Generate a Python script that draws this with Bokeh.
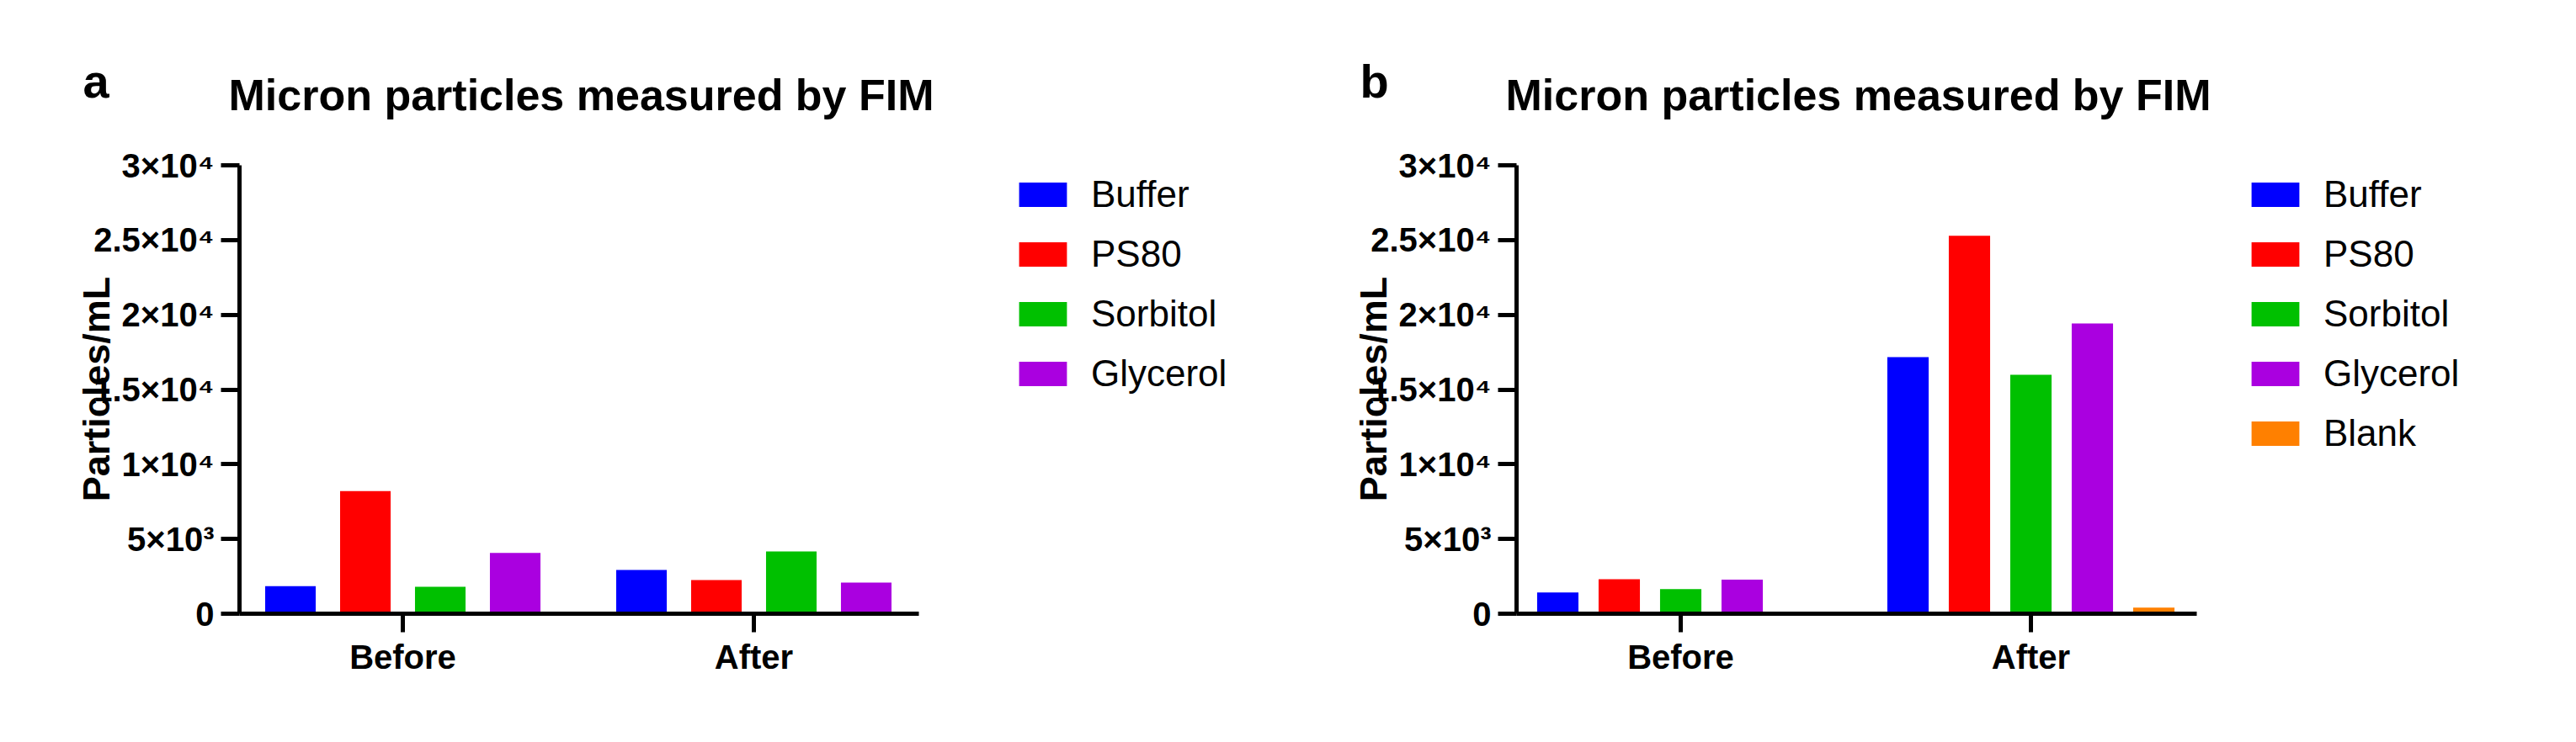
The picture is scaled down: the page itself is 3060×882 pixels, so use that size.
import math
from bokeh.plotting import figure
from bokeh.layouts import row
from bokeh.models import (Range1d, FixedTicker, Legend, LegendItem, Label,
                          ColumnDataSource)
from bokeh.transform import dodge
from bokeh.embed import file_html
from bokeh.resources import INLINE

# ---------------- data ----------------
groups = ["Before", "After"]

series_a = ["Buffer", "PS80", "Sorbitol", "Glycerol"]
buffer_a = [1850, 2930]
ps80_a = [8200, 2250]
sorbitol_a = [1800, 4170]
glycerol_a = [4060, 2080]

series_b = ["Buffer", "PS80", "Sorbitol", "Glycerol", "Blank"]
buffer_b = [1420, 17170]
ps80_b = [2310, 25280]
sorbitol_b = [1650, 15980]
glycerol_b = [2280, 19420]
blank_b = [float("nan"), 410]

y_ticks = [0, 5000, 10000, 15000, 20000, 25000, 30000]
y_tick_labels = ["0", "5×10³", "1×10⁴", "1.5×10⁴", "2×10⁴", "2.5×10⁴", "3×10⁴"]
Y_MAX = 30000

title_text = "Micron particles measured by FIM"
y_label = "Particles/mL"

colors = {
    "Buffer": "#0000FF",
    "PS80": "#FF0000",
    "Sorbitol": "#00C000",
    "Glycerol": "#AA00E0",
    "Blank": "#FF8000",
}

FONT = "Liberation Sans"

# ---------------- layout (page pixels) ----------------
FIG_W, FIG_H = 1522, 866
PAGE_TOP = 8
Y0_PX, YMAX_PX = 737, 204      # page y of value 0 and of Y_MAX
LEGEND_TOP_PX = 203.5
ITEM_H = 71
TITLE_BASE_PX = 120
LETTER_BASE_PX = 104
YLABEL_CENTER_PX = 470


def make_panel(letter, series, values, fig_left, axis_px, cat1_px, unit_px,
               axis_end_px, legend_px, step, bar_w):
    def X(px):
        return 1 + (px - cat1_px) / unit_px

    def Y(py):
        return (Y0_PX - py) * Y_MAX / (Y0_PX - YMAX_PX)

    p = figure(
        x_range=Range1d(X(fig_left), X(fig_left + FIG_W)),
        y_range=Range1d(Y(PAGE_TOP + FIG_H), Y(PAGE_TOP)),
        width=FIG_W, height=FIG_H, min_border=0, title=None,
        output_backend="svg", toolbar_location=None,
        background_fill_color="white", border_fill_color="white",
    )
    p.outline_line_color = None
    p.xgrid.visible = False
    p.ygrid.visible = False

    positions = [i + 1 for i in range(len(groups))]
    n = len(series)
    items = []
    for i, name in enumerate(series):
        off = (i - (n - 1) / 2) * step
        src = ColumnDataSource(dict(x=positions, group=groups, top=values[name]))
        r = p.vbar(x=dodge("x", off), top="top", width=bar_w,
                   source=src, fill_color=colors[name], line_color=None)
        items.append(LegendItem(label=name, renderers=[r]))

    xa = p.xaxis[0]
    ya = p.yaxis[0]
    for ax in (xa, ya):
        ax.axis_line_width = 5
        ax.axis_line_color = "black"
        ax.major_tick_line_width = 5
        ax.major_tick_line_color = "black"
        ax.major_tick_out = 22
        ax.major_tick_in = 0
        ax.minor_tick_out = 0
        ax.minor_tick_in = 0
        ax.major_label_text_font = FONT
        ax.major_label_text_font_style = "bold"
        ax.major_label_text_color = "black"

    xa.fixed_location = 0
    xa.bounds = (X(axis_px), X(axis_end_px))
    xa.ticker = FixedTicker(ticks=positions)
    xa.major_label_overrides = dict(zip(positions, groups))
    xa.major_label_text_font_size = "40px"
    xa.major_label_standoff = 7

    ya.fixed_location = X(axis_px)
    ya.bounds = (0, Y_MAX)
    ya.ticker = FixedTicker(ticks=y_ticks)
    ya.major_label_overrides = dict(zip(y_ticks, y_tick_labels))
    ya.major_label_text_font_size = "40px"
    ya.major_label_standoff = 8

    p.add_layout(Label(x=X(axis_px - 170), y=Y(YLABEL_CENTER_PX), text=y_label,
                       angle=math.pi / 2, text_align="center",
                       text_baseline="alphabetic", text_font=FONT,
                       text_font_size="45px", text_font_style="bold",
                       text_color="black"))
    p.add_layout(Label(x=X(axis_px - 13), y=Y(TITLE_BASE_PX), text=title_text,
                       text_align="left", text_baseline="alphabetic",
                       text_font=FONT, text_font_size="52px",
                       text_font_style="bold", text_color="black"))
    p.add_layout(Label(x=X(axis_px - 186), y=Y(LETTER_BASE_PX), text=letter,
                       text_align="left", text_baseline="alphabetic",
                       text_font=FONT, text_font_size="56px",
                       text_font_style="bold", text_color="black"))

    legend_h = n * ITEM_H
    legend = Legend(items=items,
                    location=(legend_px - 7 - fig_left,
                              (PAGE_TOP + FIG_H) - LEGEND_TOP_PX - legend_h),
                    orientation="vertical", padding=0, margin=0, spacing=0,
                    glyph_width=71, glyph_height=36, label_height=ITEM_H,
                    label_standoff=22, border_line_color=None,
                    background_fill_alpha=0, label_text_font=FONT,
                    label_text_font_size="44px", label_text_color="black")
    p.add_layout(legend)
    return p


pa = make_panel("a", series_a,
                {"Buffer": buffer_a, "PS80": ps80_a, "Sorbitol": sorbitol_a,
                 "Glycerol": glycerol_a},
                fig_left=8, axis_px=292, cat1_px=486, unit_px=417,
                axis_end_px=1099, legend_px=1218, step=0.2134, bar_w=0.144)
pb = make_panel("b", series_b,
                {"Buffer": buffer_b, "PS80": ps80_b, "Sorbitol": sorbitol_b,
                 "Glycerol": glycerol_b, "Blank": blank_b},
                fig_left=1530, axis_px=1809, cat1_px=2004, unit_px=416,
                axis_end_px=2617, legend_px=2682, step=0.1755, bar_w=0.118)

layout = row(pa, pb)
open("out.html", "w").write(file_html(layout, INLINE))
